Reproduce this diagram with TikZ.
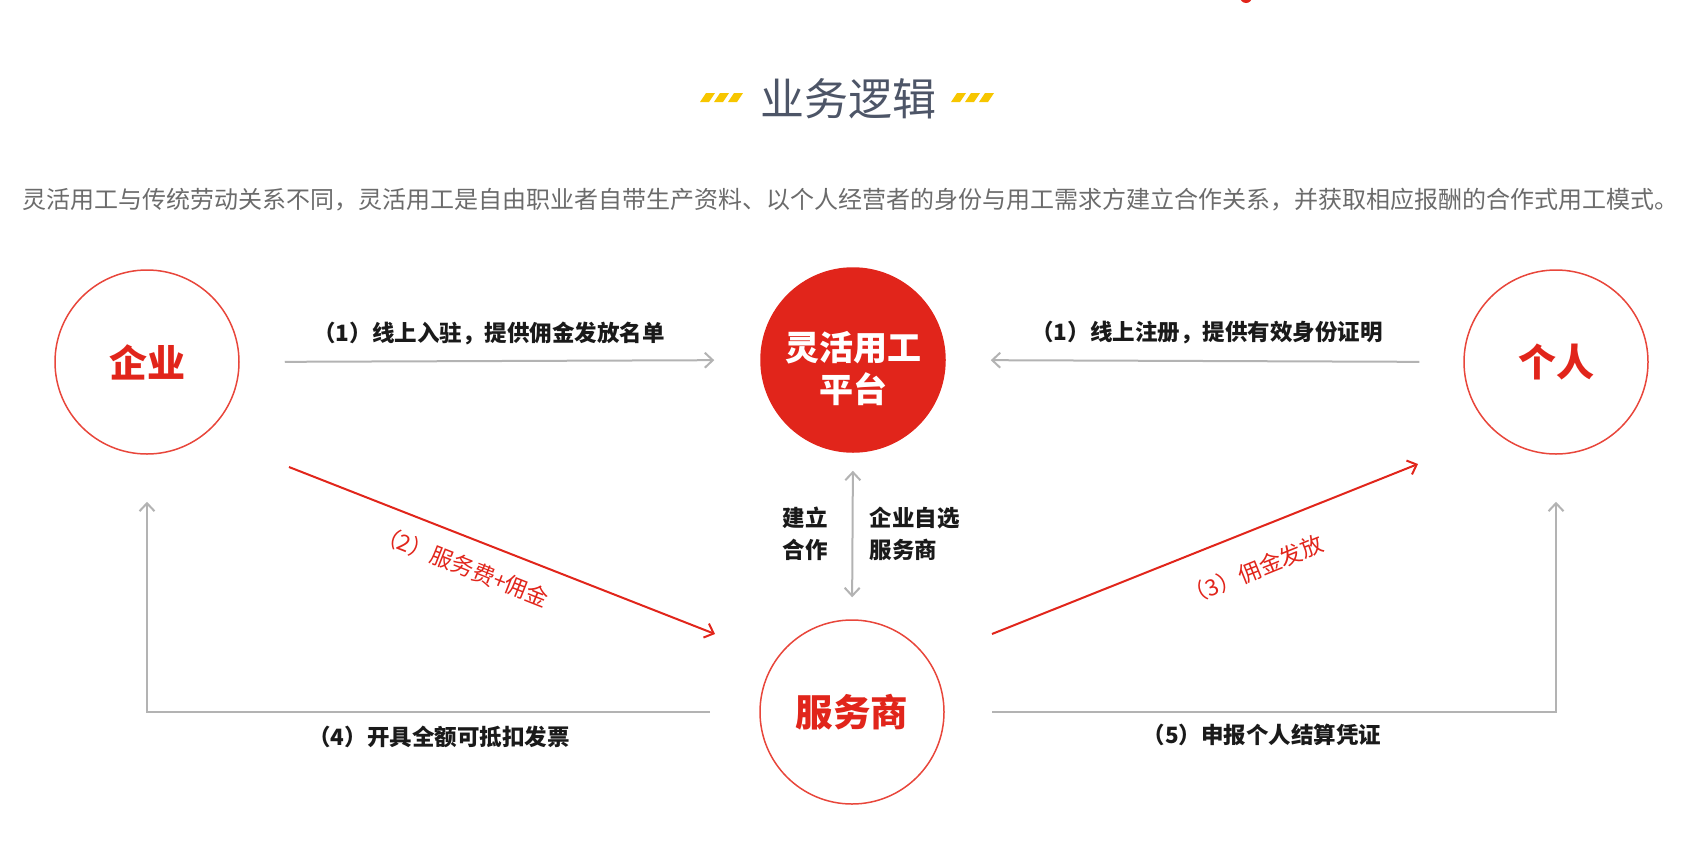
\documentclass[tikz,border=0pt]{standalone}
\usepackage{fontspec}
\setmainfont{Noto Sans CJK SC}
\usetikzlibrary{arrows.meta}
\definecolor{hong}{HTML}{E1251B}
\definecolor{ringred}{HTML}{E8463B}
\definecolor{huise}{HTML}{B3B3B3}
\definecolor{huang}{HTML}{F7C600}
\definecolor{titlegray}{HTML}{4D5567}
\definecolor{wenzi}{HTML}{6B6B6B}
\definecolor{zi}{HTML}{1A1A1A}
\tikzset{
  ring/.style={circle, draw=ringred, line width=1.5pt, minimum size=184pt, inner sep=0pt,
    text=hong, font=\fontsize{38}{42}\selectfont\bfseries},
  garrow/.style={draw=huise, line width=2pt, -{Straight Barb[length=8pt,width=15pt]}},
  rarrow/.style={draw=hong, line width=2pt, -{Straight Barb[length=8pt,width=15pt]}},
  lbl/.style={text=zi, font=\fontsize{22.5}{32}\selectfont\bfseries},
  rlbl/.style={text=hong, font=\fontsize{22.5}{26}\selectfont}
}
\begin{document}
\begin{tikzpicture}[x=1pt, y=-1pt]
\useasboundingbox (0,0) rectangle (1691,857);
\fill[hong] (1246,-3) circle (6);

\node[font=\fontsize{44}{50}\selectfont, text=titlegray] (title) at (848,99) {业务逻辑};
\foreach \x in {700,714,728,951,965,979}
  \fill[huang] (\x,102) -- ++(9,0) -- ++(6,-9) -- ++(-9,0) -- cycle;
\node[font=\fontsize{24}{28}\selectfont, text=wenzi] (intro) at (850,200)
  {灵活用工与传统劳动关系不同，灵活用工是自由职业者自带生产资料、以个人经营者的身份与用工需求方建立合作关系，并获取相应报酬的合作式用工模式。};

\node[ring, yshift=-2pt] (qiye) at (147,360) {企业};
\node[ring, fill=hong, draw=hong] (pingtai) at (853,360) {};
\node[text=white, align=center, font=\fontsize{34}{42}\selectfont\bfseries] (pingtaiwz) at (853,369) {灵活用工\\平台};
\node[ring, yshift=-2pt] (geren) at (1556,360) {个人};
\node[ring, font=\fontsize{37.5}{42}\selectfont\bfseries] (fuwu) at (852,712) {服务商};

\begin{scope}
\draw[garrow, shorten <=45pt, shorten >=46pt] (qiye.east) -- (pingtai.west);
\draw[garrow, shorten <=44pt, shorten >=45pt] (geren.west) -- (pingtai.east);
\draw[garrow, {Straight Barb[length=8pt,width=15pt]}-{Straight Barb[length=8pt,width=15pt]},
  shorten <=18pt, shorten >=22pt] (pingtai.south) -- (fuwu.north);
\draw[garrow] ([xshift=-142pt]fuwu.center) -| ([yshift=-47pt]qiye.south);
\draw[garrow] ([xshift=140pt]fuwu.center) -| ([yshift=-47pt]geren.south);
\end{scope}

\begin{scope}
\draw[rarrow] ([shift={(142,105)}]qiye.center) -- ([shift={(-137,-78)}]fuwu.center);
\draw[rarrow] ([shift={(140,-78)}]fuwu.center) -- ([shift={(-138,102)}]geren.center);
\end{scope}

\node[lbl] (l1a) at (489,333) {（1）线上入驻，提供佣金发放名单};
\node[lbl] (l1b) at (1207,333) {（1）线上注册，提供有效身份证明};
\node[lbl, align=center] (jianli) at (805,534) {建立\\合作};
\node[lbl, align=left, anchor=west] (zixuan) at (866,534) {企业自选\\服务商};
\node[rlbl, rotate=-21.6] (l2) at (463,566) {（2）服务费+佣金};
\node[rlbl, rotate=22] (l3) at (1254,570) {（3）佣金发放};
\node[lbl] (l4) at (439,737) {（4）开具全额可抵扣发票};
\node[lbl] (l5) at (1262,735) {（5）申报个人结算凭证};
\end{tikzpicture}
\end{document}
